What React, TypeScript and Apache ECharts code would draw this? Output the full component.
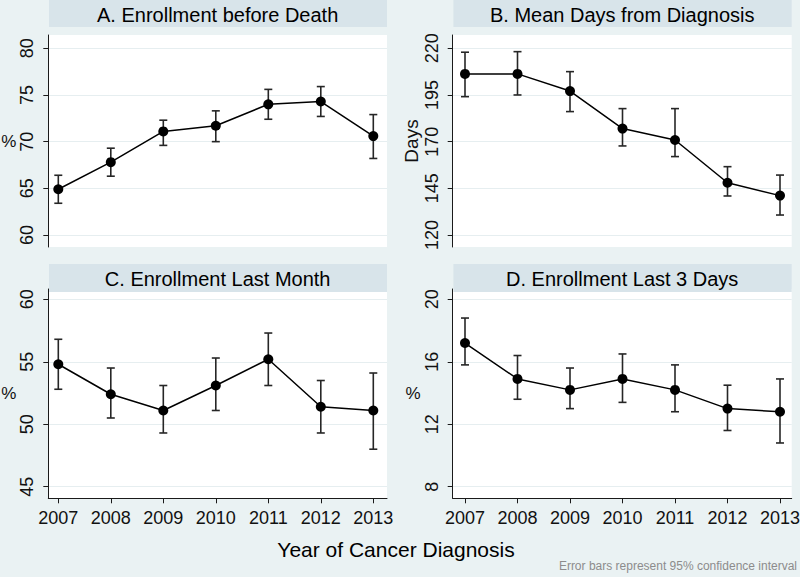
import React, { useEffect, useRef } from "react";
import * as echarts from "echarts";

// ---------- data ----------
const years = [2007, 2008, 2009, 2010, 2011, 2012, 2013];

const aMean = [64.9, 67.8, 71.1, 71.7, 74.0, 74.3, 70.6];
const aLow = [63.4, 66.3, 69.6, 70.0, 72.4, 72.7, 68.2];
const aHigh = [66.4, 69.3, 72.3, 73.3, 75.6, 75.9, 72.9];
const aTicks = [60, 65, 70, 75, 80];

const bMean = [206.3, 206.3, 197.1, 177.0, 170.9, 148.0, 141.1];
const bLow = [194.1, 195.0, 186.1, 167.7, 162.0, 140.9, 130.7];
const bHigh = [217.9, 218.2, 207.5, 187.7, 187.7, 156.6, 152.1];
const bTicks = [120, 145, 170, 195, 220];

const cMean = [54.8, 52.4, 51.1, 53.1, 55.2, 51.4, 51.1];
const cLow = [52.8, 50.5, 49.3, 51.1, 53.1, 49.3, 48.0];
const cHigh = [56.8, 54.5, 53.1, 55.3, 57.3, 53.5, 54.1];
const cTicks = [45, 50, 55, 60];

const dMean = [17.2, 14.9, 14.2, 14.9, 14.2, 13.0, 12.8];
const dLow = [15.8, 13.6, 13.0, 13.4, 12.8, 11.6, 10.8];
const dHigh = [18.8, 16.4, 15.6, 16.5, 15.8, 14.5, 14.9];
const dTicks = [8, 12, 16, 20];

const titles = [
  "A. Enrollment before Death",
  "B. Mean Days from Diagnosis",
  "C. Enrollment Last Month",
  "D. Enrollment Last 3 Days",
];
const yNames = ["%", "Days", "%", "%"];
const xTitle = "Year of Cancer Diagnosis";
const footnote = "Error bars represent 95% confidence interval";

// ---------- layout ----------
const FONT = "'Liberation Sans', Arial, Helvetica, sans-serif";
const BG = "#EAF2F3";
const BAR = "#D8E4EA";
const GRIDC = "#E6EEF0";
const INK = "#111";

const COLS = [
  { x0: 48.3, x1: 387, d0: 58.3, d1: 373.3 },
  { x0: 452.7, x1: 791.7, d0: 465, d1: 780 },
];
const ROWS = [
  { y0: 35, y1: 247, t0: 48.3, t1: 235, bar0: 0, bar1: 27 },
  { y0: 289, y1: 498.3, t0: 299.3, t1: 486.7, bar0: 264, bar1: 292 },
];
const Y_LABEL_GAP = 21; // axis line to centre of rotated tick label

export default function App() {
  const ref = useRef<HTMLDivElement>(null);

  useEffect(() => {
    if (!ref.current) return;
    const chart = echarts.init(ref.current, undefined, { renderer: "svg" });

    const panels = [
      { mean: aMean, low: aLow, high: aHigh, ticks: aTicks, col: 0, row: 0 },
      { mean: bMean, low: bLow, high: bHigh, ticks: bTicks, col: 1, row: 0 },
      { mean: cMean, low: cLow, high: cHigh, ticks: cTicks, col: 0, row: 1 },
      { mean: dMean, low: dLow, high: dHigh, ticks: dTicks, col: 1, row: 1 },
    ];

    const grids: any[] = [];
    const xAxes: any[] = [];
    const yAxes: any[] = [];
    const series: any[] = [];
    const graphics: any[] = [];
    const xMins: number[] = [];

    panels.forEach((p, i) => {
      const c = COLS[p.col];
      const r = ROWS[p.row];
      const bottom = p.row === 1;
      const isPct = yNames[i] === "%";
      grids.push({
        left: c.x0, top: r.y0, width: c.x1 - c.x0, height: r.y1 - r.y0,
        show: true, backgroundColor: "#ffffff", borderWidth: 0,
        containLabel: false, outerBoundsMode: "none",
      });
      const xFirst = years[0];
      const xLast = years[years.length - 1];
      const xpp = (xLast - xFirst) / (c.d1 - c.d0);
      const tMin = p.ticks[0];
      const tMax = p.ticks[p.ticks.length - 1];
      const ypp = (tMax - tMin) / (r.t1 - r.t0);
      const xMin = xFirst - (c.d0 - c.x0) * xpp;
      xMins.push(xMin);
      xAxes.push({
        type: "value", gridIndex: i, min: xMin, max: xLast + (c.x1 - c.d1) * xpp,
        axisLine: { show: bottom, onZero: false, lineStyle: { color: "#1a1a1a", width: 1 } },
        axisTick: { show: bottom, customValues: years, length: 5, lineStyle: { color: "#1a1a1a", width: 1 } },
        axisLabel: {
          show: bottom, customValues: years, margin: 11, fontSize: 18, fontFamily: FONT, color: INK,
          formatter: (v: number) => String(v),
        },
        splitLine: { show: false },
      });
      yAxes.push({
        type: "value", gridIndex: i,
        min: tMin - (r.y1 - r.t1) * ypp, max: tMax + (r.t0 - r.y0) * ypp,
        name: yNames[i], nameLocation: "middle", nameRotate: isPct ? 0 : 90, nameGap: isPct ? 32 : 32,
        nameTextStyle: { fontSize: isPct ? 17 : 19, fontFamily: FONT, color: INK },
        axisLine: { show: true, onZero: false, lineStyle: { color: "#1a1a1a", width: 1 } },
        axisTick: { show: true, customValues: p.ticks, length: 5, lineStyle: { color: "#1a1a1a", width: 1 } },
        axisLabel: { show: false },
        splitLine: { show: true, lineStyle: { color: GRIDC, width: 1.2 } },
      });
      // error bars (95% CI)
      series.push({
        type: "custom", xAxisIndex: i, yAxisIndex: i, z: 2,
        data: years.map((y, k) => [y, p.low[k], p.high[k]]),
        encode: { x: 0, y: [1, 2] },
        renderItem: (params: any, api: any) => {
          const x = api.value(0);
          const lo = api.coord([x, api.value(1)]);
          const hi = api.coord([x, api.value(2)]);
          const hw = 4;
          const st = { stroke: "#262626", lineWidth: 1.6 };
          return {
            type: "group",
            children: [
              { type: "line", shape: { x1: lo[0], y1: lo[1], x2: hi[0], y2: hi[1] }, style: st },
              { type: "line", shape: { x1: lo[0] - hw, y1: lo[1], x2: lo[0] + hw, y2: lo[1] }, style: st },
              { type: "line", shape: { x1: hi[0] - hw, y1: hi[1], x2: hi[0] + hw, y2: hi[1] }, style: st },
            ],
          };
        },
      });
      series.push({
        type: "line", xAxisIndex: i, yAxisIndex: i, z: 3,
        data: years.map((y, k) => [y, p.mean[k]]),
        symbol: "circle", symbolSize: 10, showSymbol: true,
        itemStyle: { color: "#000" }, lineStyle: { color: "#000", width: 1.5 },
      });
      // panel title bar
      graphics.push({
        type: "group", z: 100,
        children: [
          { type: "rect", shape: { x: c.x0 + 0.7, y: r.bar0, width: c.x1 - c.x0 - 0.7, height: r.bar1 - r.bar0 }, style: { fill: BAR }, z: 100 },
          {
            type: "text", x: (c.x0 + c.x1) / 2, y: (r.bar0 + r.bar1) / 2 + 1, z: 101,
            style: { text: titles[i], fill: "#000", fontSize: 20, fontFamily: FONT, textAlign: "center", textVerticalAlign: "middle" },
          },
        ],
      });
    });

    graphics.push({
      type: "text", x: 396, y: 549, z: 100,
      style: { text: xTitle, fill: "#000", fontSize: 21, fontFamily: FONT, textAlign: "center", textVerticalAlign: "middle" },
    });
    graphics.push({
      type: "text", x: 797, y: 566, z: 100,
      style: { text: footnote, fill: "#8c8c8c", fontSize: 12, fontFamily: FONT, textAlign: "right", textVerticalAlign: "middle" },
    });

    chart.setOption({
      animation: false, backgroundColor: BG,
      grid: grids, xAxis: xAxes, yAxis: yAxes, series, graphic: graphics,
    });

    // rotated y tick labels, positioned through each grid's own scale
    const labelEls: any[] = [];
    panels.forEach((p, i) => {
      p.ticks.forEach((t) => {
        const pt = chart.convertToPixel({ gridIndex: i }, [xMins[i], t]) as number[];
        labelEls.push({
          type: "text",
          x: pt[0] - Y_LABEL_GAP,
          y: pt[1],
          rotation: Math.PI / 2,
          originX: 0,
          originY: 0,
          z: 50,
          style: {
            text: String(t), fill: INK, fontSize: 18, fontFamily: FONT,
            textAlign: "center", textVerticalAlign: "middle",
          },
        });
      });
    });
    chart.setOption({ graphic: graphics.concat(labelEls) }, { replaceMerge: ["graphic"] });

    return () => chart.dispose();
  }, []);

  return <div ref={ref} style={{ position: "fixed", left: 0, top: 0, width: 800, height: 577 }} />;
}
